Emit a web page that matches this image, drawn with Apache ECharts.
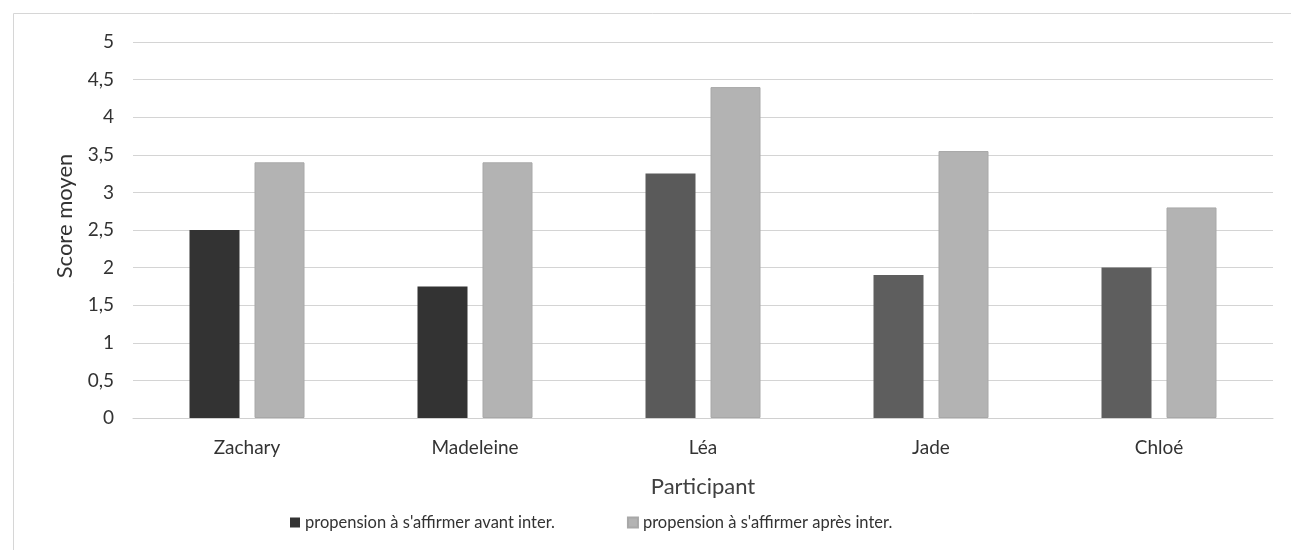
<!DOCTYPE html>
<html>
<head>
<meta charset="utf-8">
<script src="https://cdn.jsdelivr.net/npm/echarts@6/dist/echarts.min.js"></script>
<style>
html,body{margin:0;padding:0;background:#fff;}
#chart{width:1291px;height:550px;}
</style>
</head>
<body>
<div id="chart"></div>
<script>
const categories = ['Zachary', 'Madeleine', 'Léa', 'Jade', 'Chloé'];
const seriesNames = ["propension à s'affirmer avant inter.", "propension à s'affirmer après inter."];
const avantValues = [2.5, 1.75, 3.25, 1.9, 2.0];
const apresValues = [3.4, 3.4, 4.4, 3.55, 2.8];
const yTicks = [0, 0.5, 1, 1.5, 2, 2.5, 3, 3.5, 4, 4.5, 5];

const avantColors = ['#333333', '#333333', '#5a5a5a', '#5e5e5e', '#5e5e5e'];
const apresColor = '#b3b3b3';
const fontFam = 'Lato, "Open Sans", "Liberation Sans", sans-serif';

const chart = echarts.init(document.getElementById('chart'), null, {renderer: 'canvas'});
chart.setOption({
  backgroundColor: '#ffffff',
  animation: false,
  textStyle: {fontFamily: fontFam},
  graphic: [{
    type: 'rect',
    shape: {x: 13.5, y: 13.5, width: 1300, height: 600},
    style: {fill: 'none', stroke: '#d6d6d6', lineWidth: 1},
    silent: true, z: -1
  }],
  grid: {left: 133, right: 18, top: 42, bottom: 132, containLabel: false},
  legend: {
    left: 285, top: 509,
    itemWidth: 10, itemHeight: 10, itemGap: 72,
    icon: 'rect',
    textStyle: {fontSize: 16.5, color: '#333333', fontFamily: fontFam},
    data: [
      {name: seriesNames[0], itemStyle: {color: '#333333'}},
      {name: seriesNames[1], itemStyle: {color: apresColor}}
    ]
  },
  xAxis: {
    type: 'category',
    data: categories,
    name: 'Participant',
    nameLocation: 'middle',
    nameGap: 58,
    nameTextStyle: {fontSize: 22, color: '#404040', fontFamily: fontFam},
    axisLine: {show: true, lineStyle: {color: '#d0d0d0'}},
    axisTick: {show: false},
    axisLabel: {fontSize: 19, color: '#333333', margin: 20, fontFamily: fontFam}
  },
  yAxis: {
    type: 'value',
    min: 0, max: 5, interval: 0.5,
    name: 'Score moyen',
    nameLocation: 'middle',
    nameGap: 57,
    nameTextStyle: {fontSize: 22, color: '#333333', fontFamily: fontFam, padding: [0, 0, 0, 28]},
    axisLine: {show: false},
    axisTick: {show: false},
    splitLine: {lineStyle: {color: '#d4d4d4', width: 1}},
    axisLabel: {
      fontSize: 19, color: '#333333', margin: 19, fontFamily: fontFam,
      formatter: function (v) {
        const t = yTicks.find(x => Math.abs(x - v) < 1e-9);
        return String(t !== undefined ? t : v).replace('.', ',');
      }
    }
  },
  series: [
    {
      name: seriesNames[0],
      type: 'bar',
      barWidth: 50,
      barGap: '30%',
      data: avantValues.map((v, i) => ({value: v, itemStyle: {color: avantColors[i]}})),
      itemStyle: {color: '#333333'}
    },
    {
      name: seriesNames[1],
      type: 'bar',
      barWidth: 50,
      barGap: '30%',
      data: apresValues,
      itemStyle: {color: apresColor, borderColor: '#a8a8a8', borderWidth: 1}
    }
  ]
});
</script>
</body>
</html>
